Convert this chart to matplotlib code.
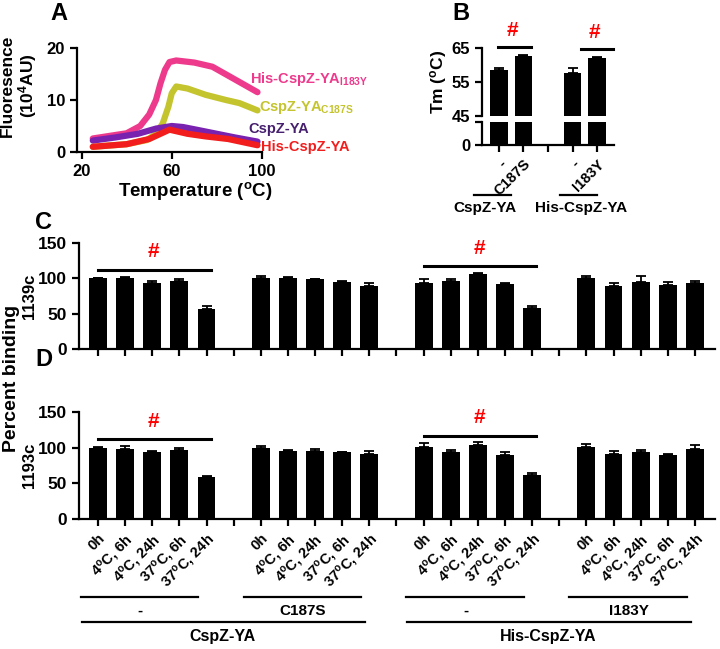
import numpy as np
import matplotlib
matplotlib.use("Agg")
import matplotlib.pyplot as plt
import matplotlib.transforms as mtransforms
from matplotlib.lines import Line2D

plt.rcParams['font.family'] = ['Liberation Sans', 'DejaVu Sans']
plt.rcParams['font.weight'] = 'bold'
plt.rcParams['axes.labelweight'] = 'bold'
plt.rcParams['mathtext.fontset'] = 'custom'
plt.rcParams['mathtext.rm'] = 'Liberation Sans:bold'
plt.rcParams['mathtext.bf'] = 'Liberation Sans:bold'
plt.rcParams['mathtext.it'] = 'Liberation Sans:bold'
plt.rcParams['mathtext.default'] = 'bf'
plt.rcParams['axes.linewidth'] = 1.6

# ---- Panel A: thermal melt curves ----
temp_i183y = [25, 40, 46, 50, 53, 55, 57, 59, 62, 70, 78, 87, 98]
fl_i183y = [2.6, 3.6, 5.0, 7.2, 10.0, 13.2, 15.8, 17.3, 17.6, 17.2, 16.4, 14.2, 11.5]
temp_c187s = [25, 40, 49, 53, 56, 58.5, 60, 62, 67, 75, 84, 90, 98]
fl_c187s = [1.0, 1.5, 2.3, 3.5, 5.5, 8.7, 11.3, 12.6, 12.2, 11.0, 10.0, 9.4, 8.0]
temp_wt = [25, 35, 45, 53, 60, 65, 72, 80, 88, 98]
fl_wt = [2.2, 2.8, 3.5, 4.5, 5.0, 4.8, 4.2, 3.5, 2.8, 2.0]
temp_his = [25, 40, 50, 55, 59, 62, 67, 75, 85, 98]
fl_his = [1.0, 1.5, 2.5, 3.5, 4.3, 4.0, 3.5, 3.0, 2.5, 1.3]

# ---- Panel B: Tm ----
tm_labels = ['-', 'C187S', '', '-', 'I183Y']
tm_pos = [0, 1, 3, 4]
tm_mean = [58.5, 62.7, 57.6, 62.0]
tm_err = [0.5, 0.3, 1.5, 0.3]

# ---- Panels C / D: percent binding ----
time_labels = ['0h', '4$^{o}$C, 6h', '4$^{o}$C, 24h', '37$^{o}$C, 6h', '37$^{o}$C, 24h']
mutants = ['-', 'C187S', '-', 'I183Y']
proteins = ['CspZ-YA', 'His-CspZ-YA']
c_mean = [100, 101, 94, 96, 57, 100, 100, 98.7, 94.4, 89,
          94, 96.3, 106.5, 91.6, 58, 100.6, 88.7, 95, 90.6, 93.5]
c_err = [1, 1.5, 2, 3, 4, 3, 1.5, 0.5, 2.5, 5,
         5, 3, 1, 1.5, 3, 2, 5, 8, 4.5, 3]
d_mean = [100, 98, 94.4, 97, 58.7, 100, 95.8, 95.8, 93.4, 90.6,
          101, 94.4, 103.8, 90, 61, 100.4, 91.5, 93.4, 89.6, 97.6]
d_err = [1, 5, 0.6, 2.5, 1.5, 3, 1.2, 3, 0.6, 4.4,
         5.6, 2.3, 4.2, 4, 3, 4.6, 4.5, 3.6, 1.4, 6.4]

W, H = 720, 649
fig = plt.figure(figsize=(W / 100, H / 100), dpi=100)


def box(l, t, r, b):
    return [l / W, 1 - b / H, (r - l) / W, (b - t) / H]


def style(ax, size=11):
    ax.spines['top'].set_visible(False)
    ax.spines['right'].set_visible(False)
    ax.tick_params(width=1.6, length=5, labelsize=size)


# Panel A
axA = fig.add_axes(box(77, 48, 262, 152))
style(axA, 12)
curves = [(temp_i183y, fl_i183y, '#EE3A8C'), (temp_c187s, fl_c187s, '#C4C42E'),
          (temp_wt, fl_wt, '#7A22B0'), (temp_his, fl_his, '#F21E1E')]
for t, f, c in curves:
    axA.plot(t, f, color=c, lw=4.5, solid_capstyle='round')
axA.set_xlim(18, 100)
axA.set_ylim(0, 20)
axA.set_xticks([20, 60, 100])
axA.set_yticks([0, 10, 20])
axA.set_xlabel('Temperature ($^{o}$C)', fontsize=13.5)
axA.xaxis.set_label_coords(0.64, -0.27)
axA.set_ylabel('Fluoresence\n(10$^{4}$AU)', fontsize=12.5, linespacing=1.05)
axA.yaxis.set_label_coords(-0.205, 0.64)
axA.text(94.5, 14.0, 'His-CspZ-YA$_{I183Y}$', color='#EE3A8C', fontsize=10.5,
         va='center', clip_on=False)
axA.text(98.5, 8.6, 'CspZ-YA$_{C187S}$', color='#C4C42E', fontsize=10.5,
         va='center', clip_on=False)
axA.text(94, 4.4, 'CspZ-YA', color='#46206E', fontsize=10.5,
         va='center', clip_on=False)
axA.text(99.5, 0.9, 'His-CspZ-YA', color='#F21E1E', fontsize=10.5,
         va='center', clip_on=False)

# Panel B (broken y axis)
axBt = fig.add_axes(box(482, 48, 614, 116))
axBb = fig.add_axes(box(482, 122, 614, 145))
for ax in (axBt, axBb):
    style(ax, 12)
    ax.bar(tm_pos, tm_mean, width=0.7, color='black',
           yerr=[np.zeros(len(tm_err)), tm_err], capsize=3.5,
           error_kw=dict(elinewidth=1.3, capthick=1.3))
    ax.set_xlim(-0.69, 4.69)
axBt.set_ylim(45, 65)
axBt.set_yticks([45, 55, 65])
axBt.spines['bottom'].set_visible(False)
axBt.set_xticks([])
axBt.set_ylabel('Tm ($^{o}$C)', fontsize=12.5, labelpad=2)
axBb.set_ylim(0, 45)
axBb.set_yticks([0, 45])
axBb.set_yticklabels(['0', ''])
axBb.set_xticks(range(5))
axBb.set_xticklabels(tm_labels, rotation=45, ha='right', va='top',
                     rotation_mode='anchor', fontsize=10.5)
for x0, x1, y, hx, hy in [(-0.04, 1.31, 65.3, 0.55, 67.5), (3.35, 4.65, 64.7, 3.9, 66.8)]:
    axBt.plot([x0, x1], [y, y], color='black', lw=2.2, clip_on=False)
    axBt.text(hx, hy, '#', color='red', fontsize=15, ha='center', va='bottom', clip_on=False)
trB = mtransforms.blended_transform_factory(axBb.transData, fig.transFigure)
for (x0, x1, xc), name in zip([(-1.02, 0.49, -0.57), (2.47, 3.98, 3.36)], proteins):
    fig.add_artist(Line2D([x0, x1], [1 - 195 / H] * 2, color='black', lw=1.6, transform=trB))
    fig.text(xc, 1 - 208 / H, name, transform=trB, ha='center', va='center', fontsize=11)

# Panels C and D
pos = [g * 6 + i for g in range(4) for i in range(5)]
tick_pos = list(range(23))
tick_lab = []
for k in tick_pos:
    tick_lab.append(time_labels[k % 6] if k % 6 < 5 else '')

axC = fig.add_axes(box(79, 243, 715, 349))
axD = fig.add_axes(box(79, 412, 715, 519))
for ax, mean, err, lab in [(axC, c_mean, c_err, '1139c'), (axD, d_mean, d_err, '1193c')]:
    style(ax, 12.5)
    ax.bar(pos, mean, width=0.66, color='black',
           yerr=[np.zeros(len(err)), err], capsize=3.5,
           error_kw=dict(elinewidth=1.3, capthick=1.3))
    ax.set_xlim(-0.7, 22.74)
    ax.set_ylim(0, 150)
    ax.set_yticks([0, 50, 100, 150])
    ax.set_xticks(tick_pos)
    ax.set_ylabel(lab, fontsize=12, labelpad=1)
    for s, y, hy in [(0, 112, 124), (12, 117, 129)]:
        ax.plot([s, s + 4.15], [y, y], color='black', lw=2.2)
        ax.text(s + 2.05, hy, '#', color='red', fontsize=15, ha='center', va='bottom')
axC.set_xticklabels([])
axD.set_xticklabels(tick_lab, rotation=45, ha='right', va='top',
                    rotation_mode='anchor', fontsize=10.5)
axD.tick_params(axis='x', pad=4)

trD = mtransforms.blended_transform_factory(axD.transData, fig.transFigure)
for g in range(4):
    s = g * 6
    fig.add_artist(Line2D([s - 0.63, s + 3.7], [1 - 597 / H] * 2, color='black', lw=1.6, transform=trD))
    fig.text(s + 1.55, 1 - 611 / H, mutants[g], transform=trD, ha='center', va='center', fontsize=11)
for p in range(2):
    s = p * 12
    fig.add_artist(Line2D([s - 0.6, s + 9.85], [1 - 622 / H] * 2, color='black', lw=1.6, transform=trD))
    fig.text(s + 4.6, 1 - 637 / H, proteins[p], transform=trD, ha='center', va='center', fontsize=11.5)

fig.text(12 / W, 1 - 378 / H, 'Percent binding', rotation=90, ha='center', va='center', fontsize=14)
for lbl, x, y in [('A', 59, 13), ('B', 461, 13), ('C', 44, 222), ('D', 44, 360)]:
    fig.text(x / W, 1 - y / H, lbl, ha='center', va='center', fontsize=17)

fig.savefig('out.png', dpi=100)
